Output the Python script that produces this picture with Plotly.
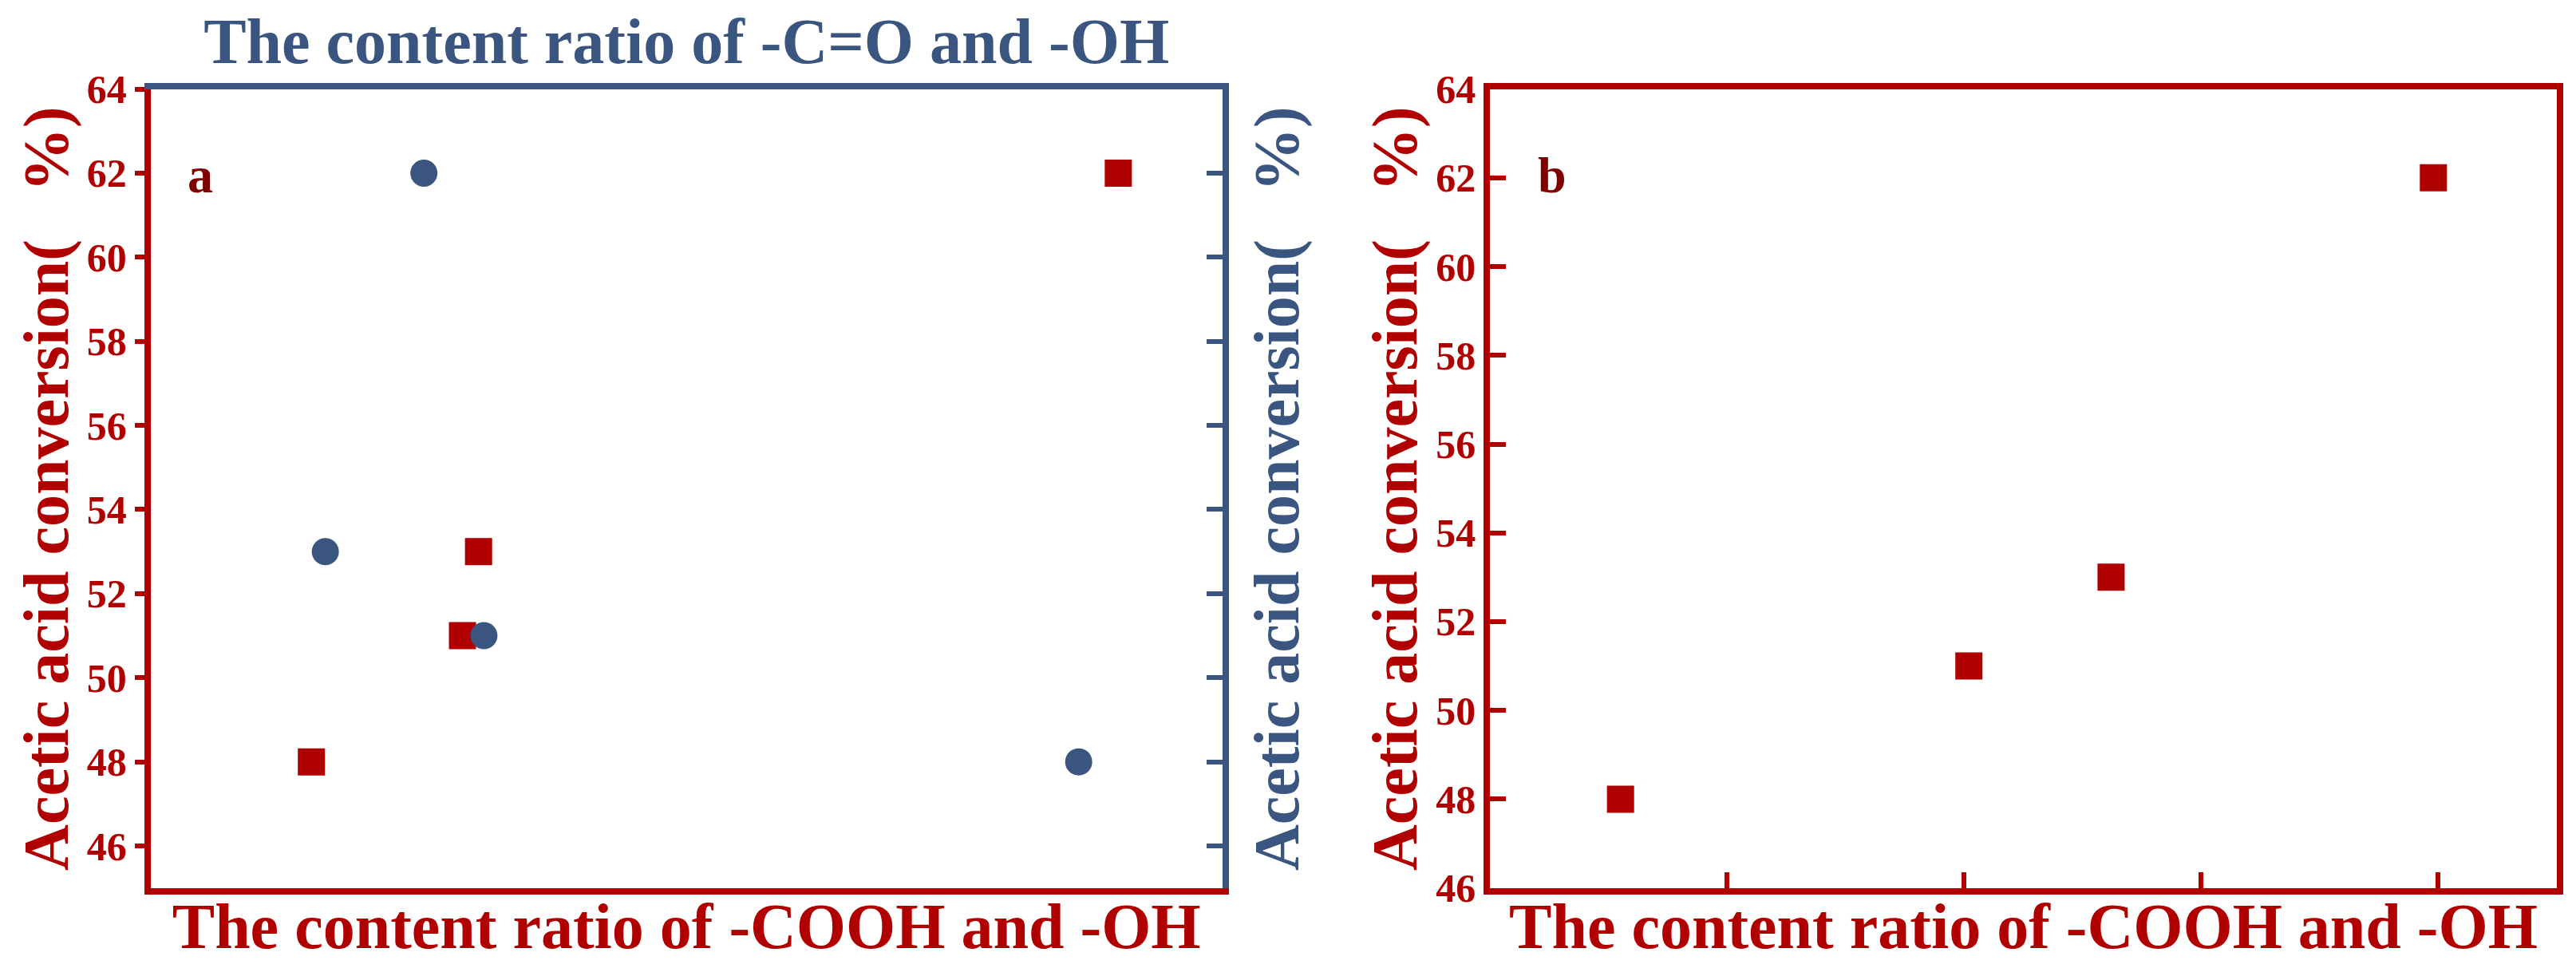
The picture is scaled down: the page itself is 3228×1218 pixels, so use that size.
import plotly.graph_objects as go

# panel a: two series sharing the y axis, each on its own x axis (values relative)
cooh_x = [0.150, 0.291, 0.306, 0.903]
co_x = [0.163, 0.255, 0.311, 0.866]
co_y = [53, 62, 51, 48]
conv_cooh = [48, 51, 53, 62]

# panel b
b_x = [0.55, 2.02, 2.62, 3.98]
b_y = [48, 51, 53, 62]
b_ticks = [1, 2, 3, 4]

RED = "#B00000"
BLUE = "#3A5580"
FONT = "Liberation Serif"

fig = go.Figure()
fig.add_trace(go.Scatter(x=cooh_x, y=conv_cooh, mode="markers", xaxis="x", yaxis="y",
                         marker=dict(symbol="square", size=34, color=RED)))
fig.add_trace(go.Scatter(x=co_x, y=co_y, mode="markers", xaxis="x2", yaxis="y2",
                         marker=dict(symbol="circle", size=34, color=BLUE)))
fig.add_trace(go.Scatter(x=b_x, y=b_y, mode="markers", xaxis="x3", yaxis="y3",
                         marker=dict(symbol="square", size=34, color=RED)))

tickfont = dict(family=FONT, size=50, color=RED, weight="bold")
tfont_red = dict(family=FONT, size=80, color=RED)
tfont_blue = dict(family=FONT, size=80, color=BLUE)
dom_a = [0.056, 0.472]
dom_b = [0.576, 0.990]
dom_y = [0.093, 0.915]

fig.update_layout(
    width=3228, height=1218, showlegend=False,
    plot_bgcolor="white", paper_bgcolor="white",
    margin=dict(l=0, r=0, t=0, b=0),
    font=dict(family=FONT),
    xaxis=dict(domain=dom_a, anchor="y", range=[0, 1], showticklabels=False, ticks="",
               showgrid=False, zeroline=False, showline=True, linecolor=RED, linewidth=8,
               automargin=False,
               title=dict(text="<b>The content ratio of -COOH and -OH</b>", font=tfont_red, standoff=15)),
    xaxis2=dict(domain=dom_a, anchor="y", overlaying="x", side="top", range=[0, 1],
                showticklabels=False, ticks="", showgrid=False, zeroline=False,
                showline=True, linecolor=BLUE, linewidth=8, automargin=False,
                title=dict(text="<b>The content ratio of -C=O and -OH</b>", font=tfont_blue, standoff=10)),
    yaxis=dict(domain=dom_y, anchor="x", range=[45, 64], dtick=2, tick0=46,
               ticks="outside", ticklen=12, tickwidth=6, tickcolor=RED, tickfont=tickfont,
               showgrid=False, zeroline=False, showline=True, linecolor=RED, linewidth=8,
               automargin=False,
               title=dict(text="<b>Acetic acid conversion(   %)</b>", font=tfont_red, standoff=0)),
    yaxis2=dict(domain=dom_y, anchor="x", overlaying="y", side="right", range=[45, 64],
                dtick=2, tick0=46, ticks="inside", ticklen=20, tickwidth=6, tickcolor=BLUE,
                showticklabels=False, showgrid=False, zeroline=False,
                showline=True, linecolor=BLUE, linewidth=8, automargin=False,
                title=dict(text="<b>Acetic acid conversion(   %)</b>", font=tfont_blue, standoff=35)),
    xaxis3=dict(domain=dom_b, anchor="y3", range=[0, 4.5], tickvals=b_ticks,
                ticks="inside", ticklen=20, tickwidth=6, tickcolor=RED, showticklabels=False,
                showgrid=False, zeroline=False, showline=True, mirror=True, linecolor=RED, linewidth=8,
                automargin=False,
                title=dict(text="<b>The content ratio of -COOH and -OH</b>", font=tfont_red, standoff=15)),
    yaxis3=dict(domain=dom_y, anchor="x3", range=[46, 64], dtick=2, tick0=46,
                ticks="inside", ticklen=20, tickwidth=6, tickcolor=RED, tickfont=tickfont,
                showgrid=False, zeroline=False, showline=True, mirror=True, linecolor=RED, linewidth=8,
                automargin=False,
                title=dict(text="<b>Acetic acid conversion(   %)</b>", font=tfont_red, standoff=0)),
    annotations=[
        dict(text="<b>a</b>", xref="x domain", yref="y domain", x=0.033, y=0.93,
             showarrow=False, font=dict(family=FONT, size=64, color="#800000")),
        dict(text="<b>b</b>", xref="x3 domain", yref="y3 domain", x=0.043, y=0.93,
             showarrow=False, font=dict(family=FONT, size=64, color="#800000")),
    ],
)

fig.write_html("out.html")
